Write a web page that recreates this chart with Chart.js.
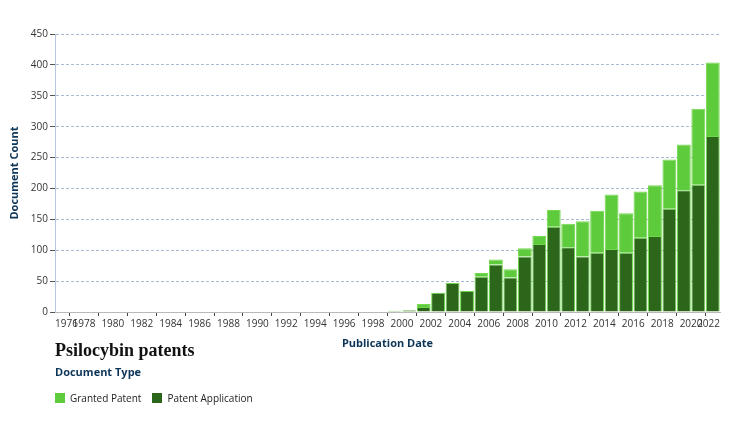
<!DOCTYPE html>
<html>
<head>
<meta charset="utf-8">
<script src="https://cdn.jsdelivr.net/npm/chart.js@4.4.0/dist/chart.umd.min.js"></script>
<style>
  body { margin: 0; background: #fff; }
  #wrap { position: relative; width: 732px; height: 427px; }
  #chart { position: absolute; left: 0; top: 0; }
  .title { position: absolute; left: 55px; top: 340px; font-family: "Liberation Serif", serif; font-weight: bold; font-size: 18px; color: #111; }
  .subtitle { position: absolute; left: 55px; top: 364px; font-family: "Open Sans", sans-serif; font-weight: bold; font-size: 11px; color: #0d3557; }
  .legend { position: absolute; left: 55px; top: 391px; font-family: "Open Sans", sans-serif; font-size: 10px; color: #222; display: flex; align-items: center; }
  .legend span.box { display: inline-block; width: 10px; height: 10px; margin-right: 5px; }
  .legend span.item { display: inline-flex; align-items: center; margin-right: 11px; }
</style>
</head>
<body>
<div id="wrap">
  <canvas id="chart" width="732" height="427"></canvas>
  <div class="title">Psilocybin patents</div>
  <div class="subtitle">Document Type</div>
  <div class="legend" id="legend"></div>
</div>
<script>
// publication years, one bar per year
const years = [
  1976, 1977, 1978, 1979, 1980, 1981, 1982, 1983, 1984, 1985,
  1986, 1987, 1988, 1989, 1990, 1991, 1992, 1993, 1994, 1995,
  1996, 1997, 1998, 1999, 2000, 2001, 2002, 2003, 2004, 2005,
  2006, 2007, 2008, 2009, 2010, 2011, 2012, 2013, 2014, 2015,
  2016, 2017, 2018, 2019, 2020, 2021
];
const granted = [
  1, 1, 0, 0, 0, 0, 0, 0, 0, 0,
  1, 0, 0, 1, 1, 0, 0, 1, 0, 0,
  0, 1, 0, 0, 0, 5, 0, 0, 0, 6,
  8, 13, 13, 13, 27, 38, 57, 68, 88, 64,
  75, 82, 80, 74, 123, 119
];
const applications = [
  0, 0, 0, 0, 0, 0, 0, 0, 0, 1,
  0, 1, 0, 0, 0, 0, 1, 0, 1, 0,
  0, 0, 1, 2, 3, 8, 31, 47, 34, 57,
  77, 56, 90, 110, 138, 105, 90, 96, 102, 96,
  120, 123, 167, 197, 206, 285
];
const yTicks = [0, 50, 100, 150, 200, 250, 300, 350, 400, 450];

const lightGreen = "#5ecb3c";
const darkGreen = "#2c661b";

// bar for a year spans from Jan of that year to Jan of the next one
const toPoints = vals => years.map((y, i) => ({ x: y + 0.5, y: vals[i] }));

const ctx = document.getElementById("chart").getContext("2d");
new Chart(ctx, {
  type: "bar",
  data: {
    datasets: [
      {
        label: "Patent Application",
        data: toPoints(applications),
        backgroundColor: darkGreen,
        borderColor: "#6fd84c",
        borderWidth: 1,
        borderSkipped: "bottom"
      },
      {
        label: "Granted Patent",
        data: toPoints(granted),
        backgroundColor: lightGreen,
        borderColor: "#74d94f",
        borderWidth: 1,
        borderSkipped: "bottom"
      }
    ]
  },
  options: {
    responsive: false,
    animation: false,
    layout: { padding: { left: 8, right: 12, top: 34, bottom: 77 } },
    datasets: { bar: { barPercentage: 0.96, categoryPercentage: 1 } },
    plugins: {
      legend: { display: false },
      tooltip: { enabled: false }
    },
    scales: {
      x: {
        type: "linear",
        stacked: true,
        offset: false,
        min: 1976,
        max: 2022,
        afterFit: s => { s.height = 38; },
        afterBuildTicks: s => {
          s.ticks = [];
          for (let v = 1976; v <= 2022; v += 2) s.ticks.push({ value: v });
        },
        grid: { drawOnChartArea: false, tickLength: 4, tickColor: "#444", tickWidth: 1 },
        border: { color: "#b9b9b9" },
        ticks: {
          autoSkip: false,
          maxRotation: 0,
          align: "inner",
          padding: 2,
          color: "#333",
          font: { family: "Open Sans", size: 10 },
          callback: v => String(v)
        },
        title: {
          display: true,
          text: "Publication Date",
          color: "#0d3557",
          padding: { top: 2, bottom: 0 },
          font: { family: "Open Sans", size: 11, weight: "bold" }
        }
      },
      y: {
        stacked: true,
        min: 0,
        max: 450,
        afterFit: s => { s.width = 47; },
        afterBuildTicks: s => { s.ticks = yTicks.map(v => ({ value: v })); },
        grid: {
          color: v => v.tick && v.tick.value === 0 ? "rgba(0,0,0,0)" : "#a9bbd0",
          tickLength: 5,
          tickColor: "#555",
          tickBorderDash: [],
          drawTicks: true
        },
        border: { color: "#b7c8de", width: 1, dash: [3, 2] },
        ticks: {
          padding: 2,
          color: "#333",
          font: { family: "Open Sans", size: 10 }
        },
        title: {
          display: true,
          text: "Document Count",
          color: "#0d3557",
          padding: { top: 0, bottom: 2 },
          font: { family: "Open Sans", size: 11, weight: "bold" }
        }
      }
    }
  }
});

// legend order as in the reference
const legendItems = [
  { label: "Granted Patent", color: lightGreen },
  { label: "Patent Application", color: darkGreen }
];
document.getElementById("legend").innerHTML = legendItems.map(it =>
  `<span class="item"><span class="box" style="background:${it.color}"></span>${it.label}</span>`
).join("");
</script>
</body>
</html>
